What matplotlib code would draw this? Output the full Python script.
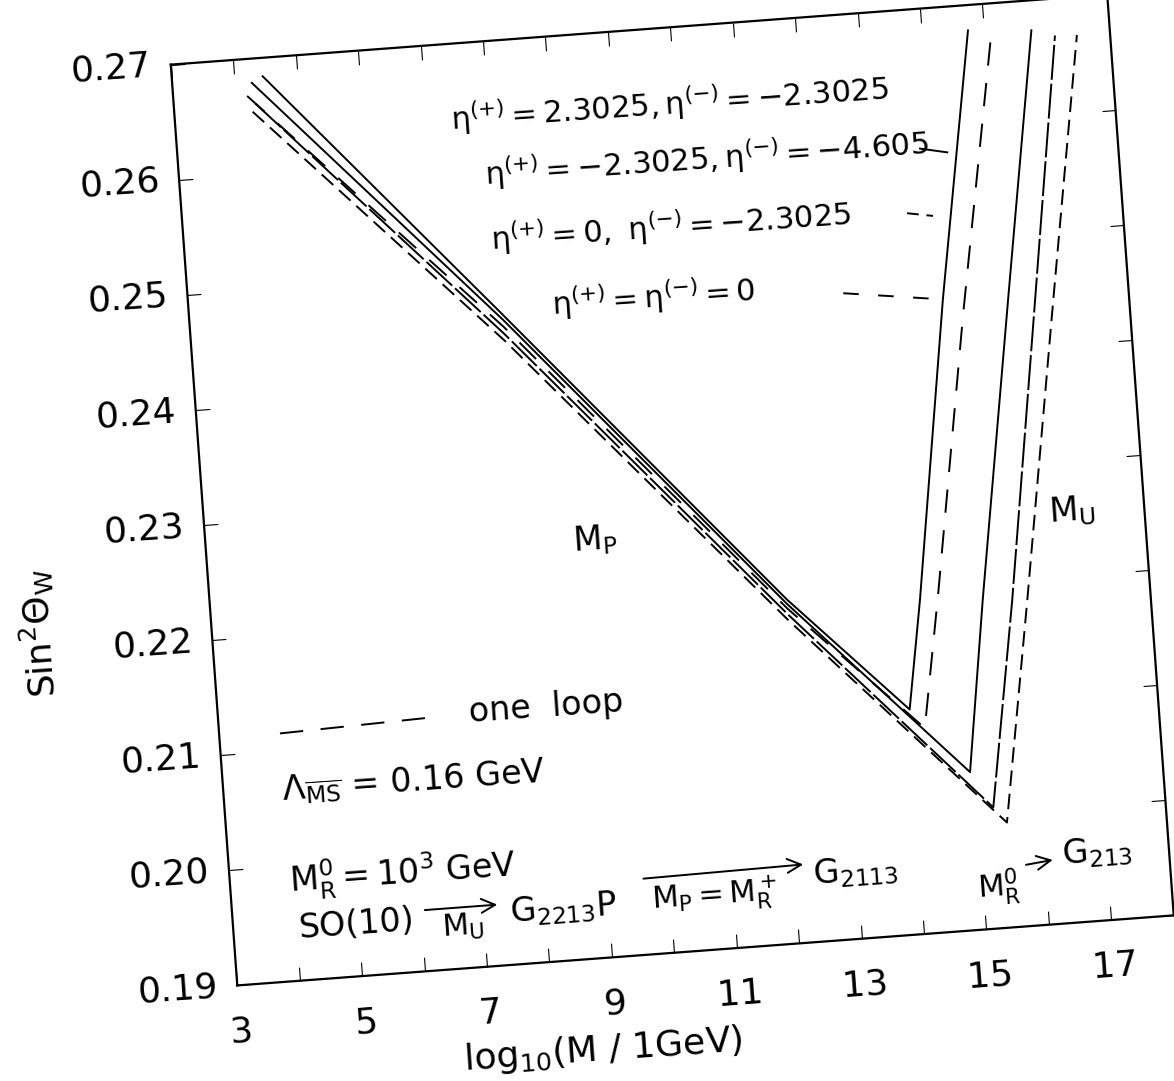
import numpy as np
import matplotlib
matplotlib.use("Agg")
import matplotlib.pyplot as plt
from matplotlib.transforms import Affine2D
import mpl_toolkits.axisartist.floating_axes as floating_axes
from mpl_toolkits.axisartist.grid_finder import FixedLocator, DictFormatter

plt.rcParams['font.family'] = ['DejaVu Sans']
plt.rcParams['mathtext.default'] = 'regular'

# ticks
x_ticks = list(range(3, 19))
x_label_pos = [3, 5, 7, 9, 11, 13, 15, 17]
x_label_txt = ["3", "5", "7", "9", "11", "13", "15", "17"]
y_ticks = [0.19, 0.20, 0.21, 0.22, 0.23, 0.24, 0.25, 0.26, 0.27]
y_tick_labels = ["0.19", "0.20", "0.21", "0.22", "0.23", "0.24", "0.25", "0.26", "0.27"]

# curves: falling branch (M_P) then rising branch (M_U)
solid_a_x = [4.45, 7.96, 12.20, 14.03, 14.32, 15.03, 15.74]
solid_a_y = [0.2684, 0.2465, 0.2198, 0.2095, 0.2189, 0.2447, 0.2678]
solid_b_x = [4.27, 8.00, 12.20, 14.92, 15.32, 16.07, 16.75]
solid_b_y = [0.2679, 0.2458, 0.2194, 0.2037, 0.2185, 0.2443, 0.2674]
one_loop_x = [4.18, 8.00, 12.20, 14.25, 14.62, 15.33, 16.13]
one_loop_y = [0.2668, 0.2452, 0.2190, 0.2078, 0.2194, 0.2431, 0.2681]
longdash_x = [4.30, 8.00, 12.20, 15.25, 15.79, 16.50, 17.12]
longdash_y = [0.2661, 0.2446, 0.2185, 0.2005, 0.2183, 0.2441, 0.2668]
dash_x = [4.25, 8.00, 12.20, 15.45, 16.03, 16.79, 17.47]
dash_y = [0.2654, 0.2440, 0.2180, 0.1991, 0.2182, 0.2440, 0.2667]

fig = plt.figure(figsize=(11.74, 10.81), dpi=100)

# the scanned frame is tilted a little, so map data onto the page with an affine
tr = Affine2D.from_values(62.43, 4.67, -831.0, 11510.0, 207.87, -2105.34)

grid_helper = floating_axes.GridHelperCurveLinear(
    tr, extremes=(3, 18, 0.19, 0.27),
    grid_locator1=FixedLocator(x_ticks),
    tick_formatter1=DictFormatter(dict(zip(x_label_pos, x_label_txt))),
    grid_locator2=FixedLocator(y_ticks),
    tick_formatter2=DictFormatter(dict(zip(y_ticks, y_tick_labels))))

ax = fig.add_axes([0, 0, 1, 1], axes_class=floating_axes.FloatingAxes,
                  grid_helper=grid_helper)
ax.set_aspect('auto')
ax.set_xlim(0, 1174)
ax.set_ylim(0, 1081)

for side in ["left", "right", "top", "bottom"]:
    ax.axis[side].line.set_linewidth(1.6)
    ax.axis[side].major_ticks.set_ticksize(10)
    ax.axis[side].major_ticks.set_linewidth(1.4)
for side in ["right", "top"]:
    ax.axis[side].major_ticklabels.set_visible(False)
for side in ["left", "bottom"]:
    ax.axis[side].major_ticklabels.set_fontsize(26)
ax.axis["left"].major_ticklabels.set_pad(14)
ax.axis["bottom"].major_ticklabels.set_pad(22)

aux = ax.get_aux_axes(tr)

lw = 1.4
aux.plot(solid_a_x, solid_a_y, color='k', lw=lw)
aux.plot(solid_b_x, solid_b_y, color='k', lw=lw)
aux.plot(one_loop_x, one_loop_y, color='k', lw=lw, dashes=(12, 9))
aux.plot(longdash_x, longdash_y, color='k', lw=lw, dashes=(18, 2))
aux.plot(dash_x, dash_y, color='k', lw=lw, dashes=(8, 4))

rot = 4
kw = dict(rotation=rot, rotation_mode='anchor', ha='left', va='baseline')

# labels of the curves
aux.text(7.40, 0.2625, r"$\eta^{(+)}=2.3025,\eta^{(-)}=-2.3025$", fontsize=22, **kw)
aux.text(7.87, 0.2576, r"$\eta^{(+)}=-2.3025,\eta^{(-)}=-4.605$", fontsize=22, **kw)
aux.text(7.90, 0.2519, r"$\eta^{(+)}=0,\ \eta^{(-)}=-2.3025$", fontsize=22, **kw)
aux.text(8.80, 0.2459, r"$\eta^{(+)}=\eta^{(-)}=0$", fontsize=22, **kw)
aux.plot([14.84, 15.27], [0.2579, 0.2574], color='k', lw=lw)
aux.plot([14.56, 14.97], [0.2524, 0.2520], color='k', lw=lw, dashes=(6, 4))
aux.plot([13.45, 15.06], [0.2459, 0.2447], color='k', lw=lw, dashes=(8, 10))

aux.text(8.85, 0.2253, r"$M_P$", fontsize=24, **kw)
aux.text(16.48, 0.2248, r"$M_U$", fontsize=24, **kw)

# key and parameters
aux.plot([3.97, 6.38], [0.2115, 0.2119], color='k', lw=lw, dashes=(12, 9))
aux.text(7.01, 0.2113, "one  loop", fontsize=24, **kw)
aux.text(3.94, 0.2057, r"$\Lambda_{\overline{MS}}$ = 0.16 GeV", fontsize=24, **kw)
aux.text(3.95, 0.1977, r"$M_R^0=10^3$ GeV", fontsize=24, **kw)

# breaking chain
aux.text(4.05, 0.1937, "SO(10)", fontsize=24, **kw)
aux.annotate("", xy=(7.28, 0.1953), xytext=(6.03, 0.1953),
             arrowprops=dict(arrowstyle='->', lw=lw, mutation_scale=25))
aux.text(6.32, 0.1929, r"$M_U$", fontsize=22, **kw)
aux.text(7.42, 0.1937, r"$G_{2213}$P", fontsize=24, **kw)
aux.annotate("", xy=(12.2, 0.1968), xytext=(9.55, 0.1966),
             arrowprops=dict(arrowstyle='->', lw=lw, mutation_scale=25))
aux.text(9.7, 0.1940, r"$M_P=M_R^+$", fontsize=22, **kw)
aux.text(12.3, 0.1950, r"$G_{2113}$", fontsize=24, **kw)
aux.text(14.90, 0.1928, r"$M_R^0$", fontsize=22, **kw)
aux.annotate("", xy=(16.18, 0.1956), xytext=(15.66, 0.1953),
             arrowprops=dict(arrowstyle='->', lw=lw, mutation_scale=25))
aux.text(16.29, 0.1951, r"$G_{213}$", fontsize=24, **kw)

# axis titles
aux.text(8.75, 0.1820, r"log$_{10}$(M / 1GeV)", fontsize=26,
         rotation=rot, rotation_mode='anchor', ha='center', va='center')
aux.text(0.23, 0.2217, r"Sin$^2\Theta_W$", fontsize=26,
         rotation=94, rotation_mode='anchor', ha='center', va='center')

fig.savefig("out.png", dpi=100)
